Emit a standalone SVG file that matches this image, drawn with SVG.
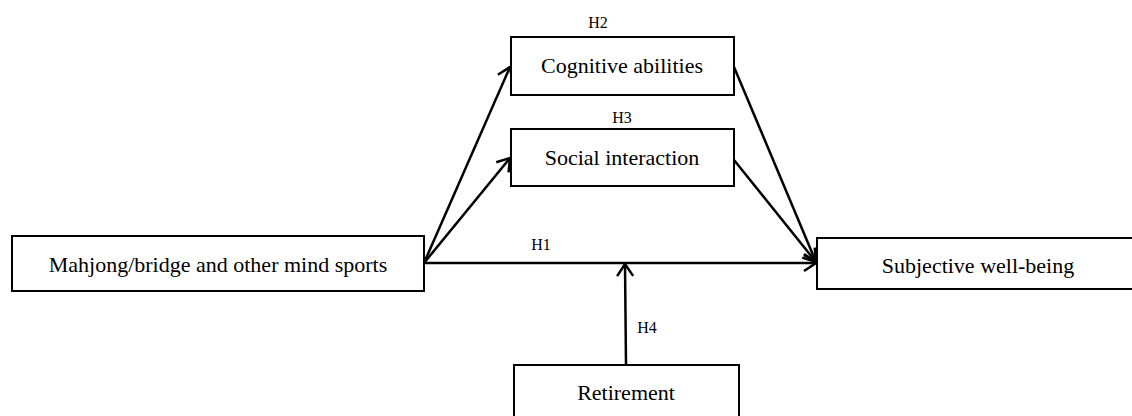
<svg xmlns="http://www.w3.org/2000/svg" width="1132" height="416" viewBox="0 0 1132 416">
<style>
.box{fill:#fff;stroke:#000;stroke-width:2}
.t{font-family:'Liberation Serif','DejaVu Serif',serif;font-size:22px;fill:#000;text-anchor:middle}
.l{font-family:'Liberation Serif','DejaVu Serif',serif;font-size:16px;fill:#000;text-anchor:middle}
.c{fill:none;stroke:#000;stroke-width:2.5}
</style>
<defs>
<marker id="arr" viewBox="0 0 20 20" refX="18" refY="10" markerWidth="20" markerHeight="20" markerUnits="userSpaceOnUse" orient="auto">
<polyline points="6,2 18,10 6,18" fill="none" stroke="#000" stroke-width="2.5"/>
</marker>
</defs>
<rect width="1132" height="416" fill="#fff"/>
<g id="connectors">
<line class="c" x1="424" y1="263" x2="816" y2="263" marker-end="url(#arr)"/>
<line class="c" x1="424" y1="263" x2="510" y2="67" marker-end="url(#arr)"/>
<line class="c" x1="424" y1="263" x2="510" y2="158" marker-end="url(#arr)"/>
<line class="c" x1="734" y1="67" x2="816" y2="262" marker-end="url(#arr)"/>
<line class="c" x1="734" y1="160" x2="816" y2="262" marker-end="url(#arr)"/>
<line class="c" x1="626" y1="365" x2="625" y2="264" marker-end="url(#arr)"/>
<text class="l" x="598" y="28">H2</text>
<text class="l" x="622" y="123">H3</text>
<text class="l" x="541" y="250">H1</text>
<text class="l" x="647" y="333">H4</text>
</g>
<g id="cognitive">
<rect class="box" x="511" y="37" width="223" height="58"/>
<text class="t" x="622" y="73">Cognitive abilities</text>
</g>
<g id="social">
<rect class="box" x="511" y="129" width="223" height="57"/>
<text class="t" x="622" y="165">Social interaction</text>
</g>
<g id="mahjong">
<rect class="box" x="12" y="236" width="412" height="55"/>
<text class="t" x="218" y="272">Mahjong/bridge and other mind sports</text>
</g>
<g id="wellbeing">
<rect class="box" x="817" y="238" width="322" height="51"/>
<text class="t" x="978" y="273">Subjective well-being</text>
</g>
<g id="retirement">
<rect class="box" x="514" y="365" width="225" height="60"/>
<text class="t" x="626" y="400">Retirement</text>
</g>
</svg>
